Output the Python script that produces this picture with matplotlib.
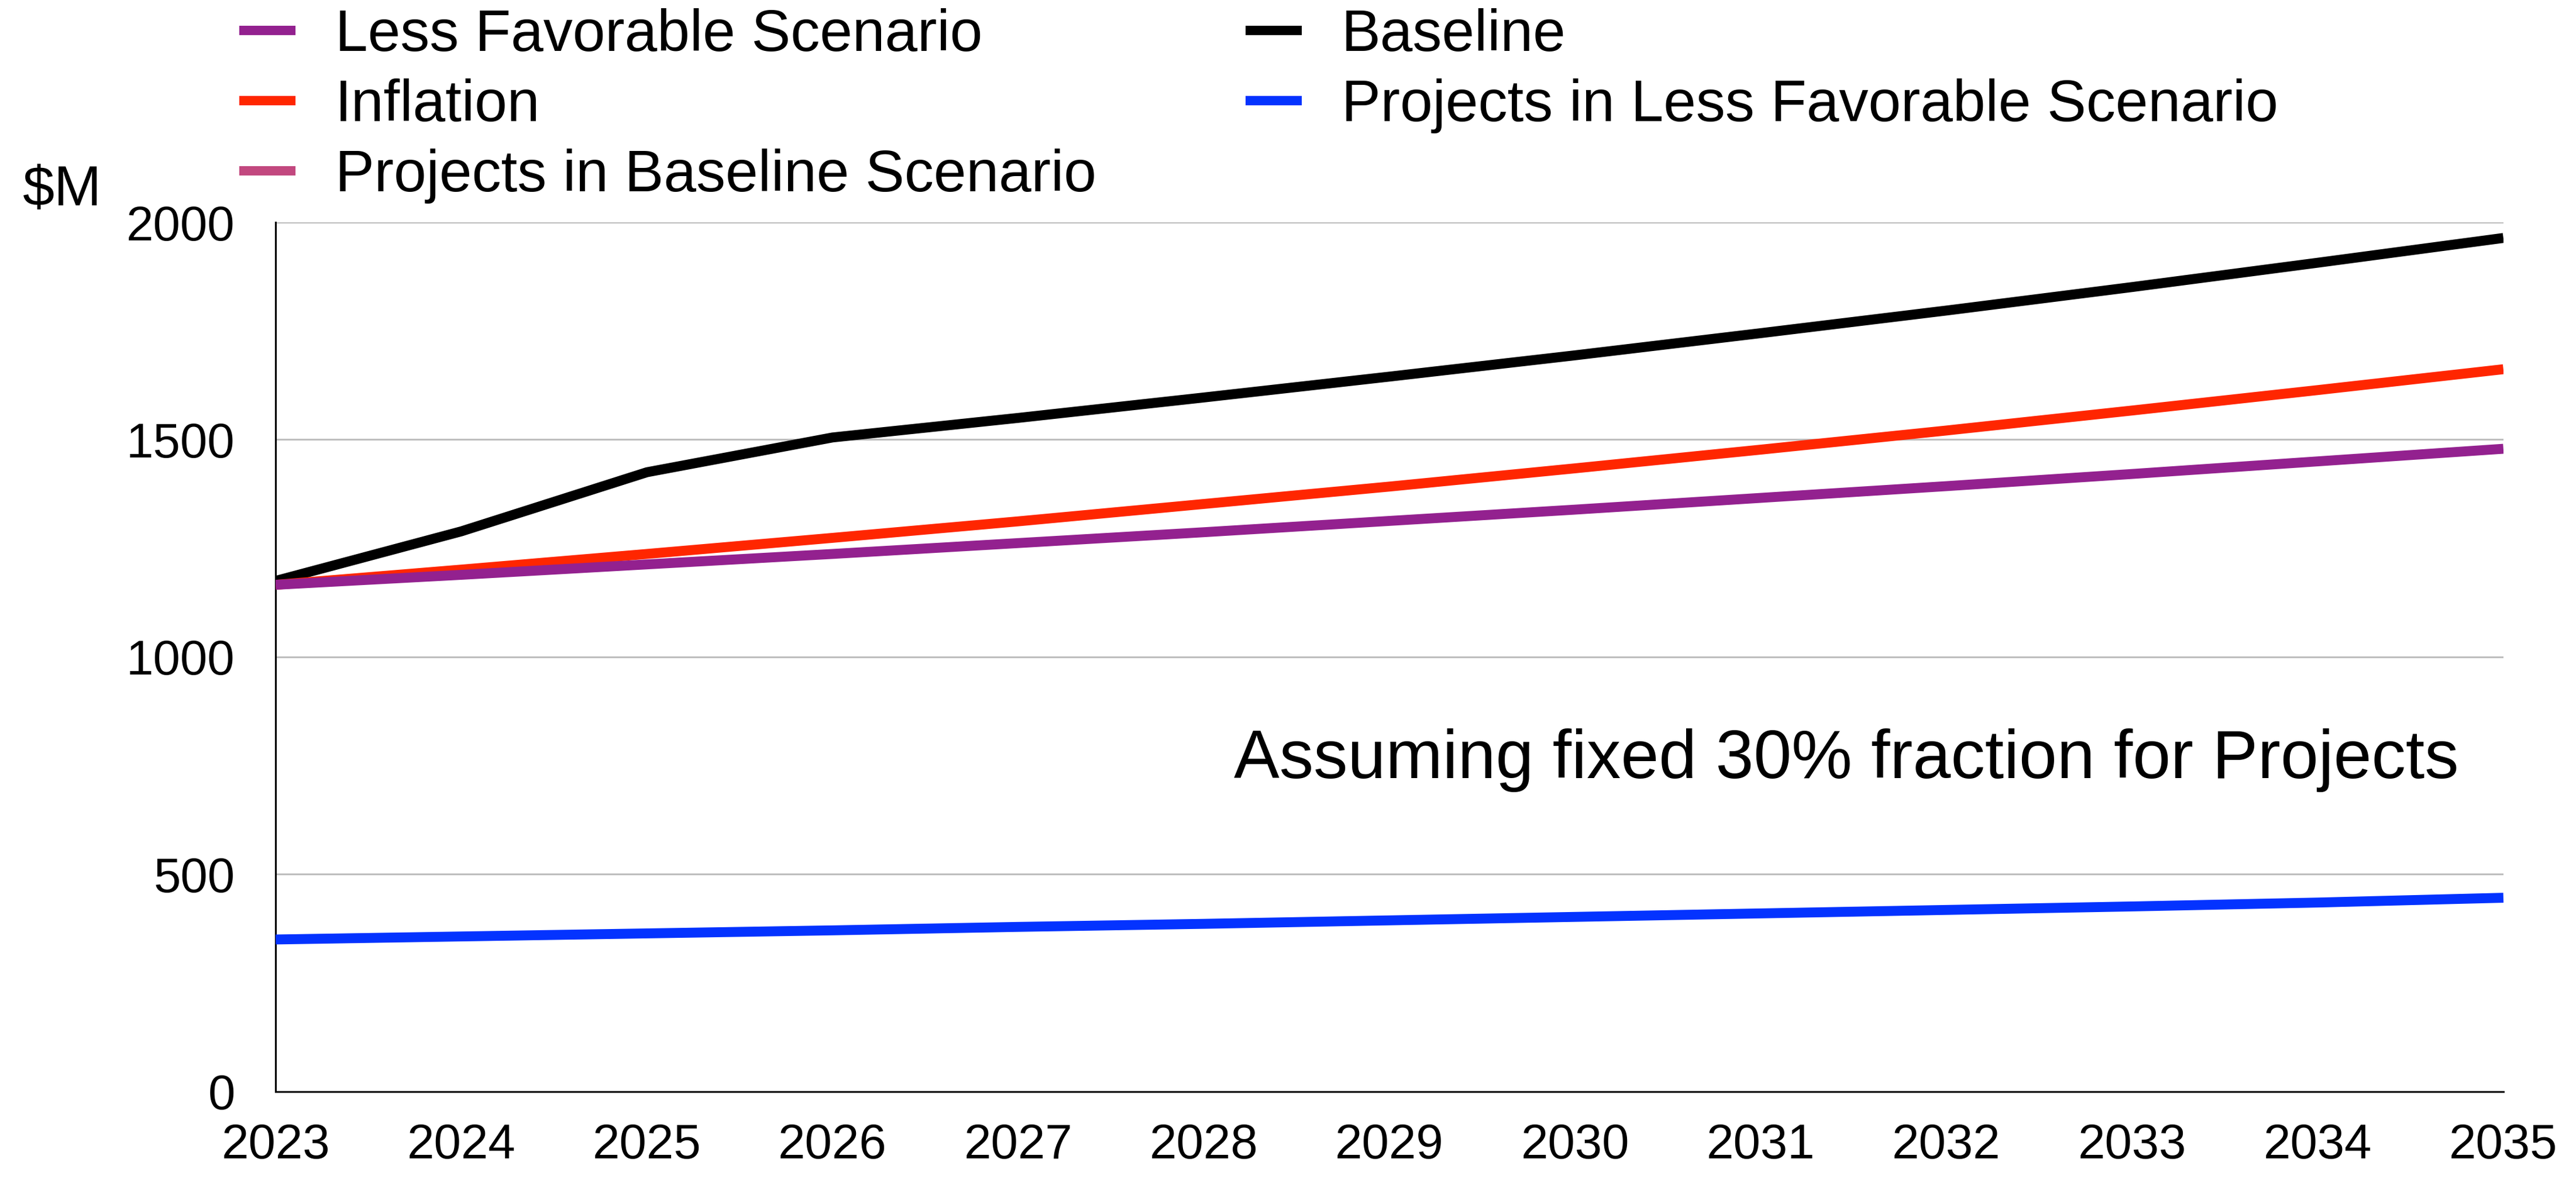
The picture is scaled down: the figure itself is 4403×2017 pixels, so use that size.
import matplotlib
matplotlib.use('Agg')
import matplotlib.pyplot as plt
from matplotlib.lines import Line2D

plt.rcParams['font.family'] = ['Liberation Sans', 'DejaVu Sans']

years = [2023, 2024, 2025, 2026, 2027, 2028, 2029, 2030, 2031, 2032, 2033, 2034, 2035]
baseline = [1175, 1289, 1425, 1505, 1550, 1597, 1645, 1694, 1745, 1797, 1851, 1907, 1964]
inflation = [1166, 1201, 1237, 1274, 1312, 1352, 1392, 1434, 1477, 1521, 1567, 1614, 1662]
less_favorable = [1166, 1189, 1213, 1237, 1262, 1287, 1313, 1339, 1366, 1393, 1421, 1450, 1479]
projects_less_fav = [350, 357, 364, 371, 379, 386, 394, 402, 410, 418, 426, 435, 446]
y_ticks = [0, 500, 1000, 1500, 2000]

c_purple = '#93218F'
c_red = '#FF2600'
c_pink = '#C2487F'
c_black = '#000000'
c_blue = '#0433FF'

fig = plt.figure(figsize=(44.03, 20.17), dpi=100)
ax = fig.add_axes([0.107, 0.0749, 0.8648, 0.7367])

lw = 12.2
ax.plot(years, baseline, color=c_black, lw=lw, solid_capstyle='butt', zorder=3)
ax.plot(years, inflation, color=c_red, lw=lw, solid_capstyle='butt', zorder=4)
ax.plot(years, less_favorable, color=c_purple, lw=lw, solid_capstyle='butt', zorder=5)
ax.plot(years, projects_less_fav, color=c_blue, lw=lw, solid_capstyle='butt', zorder=5)

ax.set_xlim(2023, 2035)
ax.set_ylim(0, 2000)
ax.set_xticks(years)
ax.set_xticklabels([str(y) for y in years])
ax.set_yticks(y_ticks)
ax.set_yticklabels([str(v) for v in y_ticks])
ax.tick_params(axis='both', length=0, labelsize=60)
ax.tick_params(axis='y', pad=50)
ax.tick_params(axis='x', pad=38)
ax.yaxis.grid(True, color='#BEBEBE', lw=2.2)
ax.set_axisbelow(True)
for side in ['top', 'right']:
    ax.spines[side].set_visible(False)
for side in ['left', 'bottom']:
    ax.spines[side].set_color('black')
    ax.spines[side].set_linewidth(2.2)

ax.text(2031.46, 763, 'Assuming fixed 30% fraction for Projects',
        fontsize=84, ha='center', va='center')

fig.text(39 / 4403, 1 - 326 / 2017, '$M', fontsize=70, ha='left', va='center')

# legend order fills column-wise: left column first, then right
handles = [
    Line2D([], [], color=c_purple, lw=11.5, solid_capstyle='butt'),
    Line2D([], [], color=c_red, lw=11.5, solid_capstyle='butt'),
    Line2D([], [], color=c_pink, lw=11.5, solid_capstyle='butt'),
    Line2D([], [], color=c_black, lw=11.5, solid_capstyle='butt'),
    Line2D([], [], color=c_blue, lw=11.5, solid_capstyle='butt'),
]
labels = ['Less Favorable Scenario', 'Inflation', 'Projects in Baseline Scenario',
          'Baseline', 'Projects in Less Favorable Scenario']
fig.legend(handles, labels, ncol=2, loc='upper left',
           bbox_to_anchor=(409 / 4403, 1 - 14 / 2017), frameon=False, fontsize=72,
           borderpad=0, borderaxespad=0, handlelength=0.96, handletextpad=0.68,
           columnspacing=2.55, labelspacing=0.26)

fig.savefig('out.png', dpi=100)
